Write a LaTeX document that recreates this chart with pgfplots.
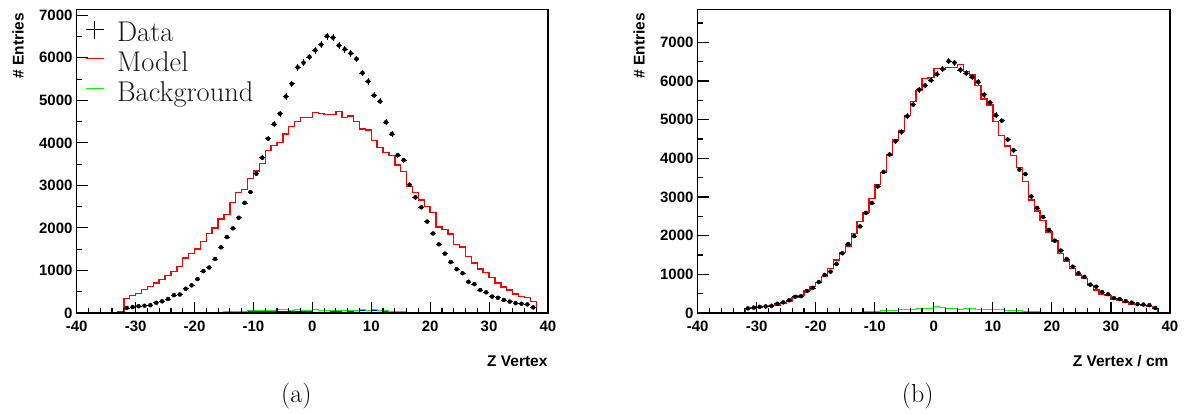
\documentclass[border=0pt]{standalone}
\usepackage{fontspec}
\usepackage{pgfplots}
\usepackage{pgfplotstable}
\pgfplotsset{compat=1.18}
\newfontfamily\rootfont{Liberation Sans}
\definecolor{rootgreen}{rgb}{0,1,0}
\definecolor{rootblue}{rgb}{0,0,1}
\definecolor{rootred}{rgb}{1,0,0}

\pgfplotstableread{
c d
-31.5 120
-30.5 140
-29.5 160
-28.5 170
-27.5 185
-26.5 240
-25.5 275
-24.5 330
-23.5 420
-22.5 435
-21.5 570
-20.5 650
-19.5 800
-18.5 985
-17.5 1070
-16.5 1270
-15.5 1545
-14.5 1785
-13.5 1990
-12.5 2240
-11.5 2590
-10.5 2845
-9.5 3275
-8.5 3650
-7.5 4100
-6.5 4440
-5.5 4685
-4.5 5090
-3.5 5390
-2.5 5775
-1.5 5885
-0.5 6020
0.5 6175
1.5 6310
2.5 6510
3.5 6475
4.5 6290
5.5 6200
6.5 6105
7.5 5975
8.5 5645
9.5 5445
10.5 5115
11.5 4975
12.5 4485
13.5 4210
14.5 3710
15.5 3595
16.5 3015
17.5 2720
18.5 2485
19.5 2150
20.5 1870
21.5 1615
22.5 1395
23.5 1198
24.5 1030
25.5 935
26.5 733
27.5 680
28.5 540
29.5 486
30.5 387
31.5 358
32.5 308
33.5 268
34.5 231
35.5 218
36.5 202
37.5 131
}\datatab

\pgfplotstableread{
e mL mR gL gR bL
-33 0 0 0 0 0
-33 40 0 3 3 2
-32 340 112 3 3 2
-31 410 125 3 3 2
-30 460 147 3 3 2
-29 550 165 3 3 2
-28 630 190 3 3 2
-27 701 207 3 4 2
-26 785 250 3 4 2
-25 880 310 3 4 2
-24 977 396 3 4 2
-23 1095 457 3 5 3
-22 1292 578 4 5 3
-21 1395 681 5 5 4
-20 1505 793 8 6 5
-19 1680 940 10 6 6
-18 1865 1155 14 7 8
-17 2000 1370 18 8 10
-16 2214 1560 22 9 12
-15 2317 1732 28 12 15
-14 2593 2060 35 15 18
-13 2829 2370 40 20 22
-12 2908 2603 45 28 25
-11 3160 2965 50 35 28
-10 3341 3318 55 45 30
-9 3515 3637 60 55 32
-8 3814 4086 62 65 34
-7 3940 4474 65 75 35
-6 4011 4706 75 85 38
-5 4208 5105 80 95 40
-4 4389 5465 70 100 38
-3 4508 5758 75 110 42
-2 4602 6060 70 105 44
-1 4602 6094 68 115 46
0 4720 6327 72 165 80
1 4689 6327 66 140 60
2 4673 6344 60 110 48
3 4673 6353 70 120 45
4 4744 6431 66 100 44
5 4594 6241 62 110 48
6 4634 6155 70 105 45
7 4500 5879 65 100 50
8 4326 5534 72 95 52
9 4303 5379 68 100 55
10 4050 4948 80 90 60
11 3885 4586 62 85 50
12 3775 4319 55 75 42
13 3696 4069 45 65 35
14 3483 3758 38 55 28
15 3325 3405 30 45 22
16 2971 2922 22 38 16
17 2829 2638 15 30 12
18 2656 2400 10 22 8
19 2498 2095 6 16 6
20 2356 1862 4 12 4
21 2025 1543 3 10 3
22 1962 1345 3 8 3
23 1860 1155 3 7 2
24 1608 983 3 6 2
25 1552 896 3 6 2
26 1332 707 3 5 2
27 1174 595 3 5 2
28 1032 483 3 4 2
29 954 448 3 4 2
30 835 362 3 4 2
31 701 319 3 3 2
32 607 276 3 3 2
33 544 233 3 3 2
34 449 215 3 3 2
35 386 190 3 3 2
36 362 164 3 3 2
37 268 112 3 3 2
38 0 0 0 0 0
}\histtab

\pgfplotsset{
  rootaxis/.style={
    scale only axis,
    height=303.7pt,
    xmin=-40, xmax=40, ymin=0,
    axis on top, clip mode=individual,
    tick align=inside, xtick pos=bottom, ytick pos=left,
    xtick={-40,-30,...,40}, minor x tick num=4,
    ytick distance=1000, minor y tick num=1,
    major tick length=11pt, minor tick length=5.5pt,
    axis line style={line width=1.3pt},
    every tick/.style={black, line width=1.1pt},
    tick label style={font=\rootfont\bfseries\fontsize{15}{18}\selectfont},
    /pgf/number format/assume math mode=true,
    /pgf/number format/1000 sep={},
    scaled y ticks=false,
    xticklabel style={inner sep=0pt, yshift=-8pt},
    yticklabel style={inner sep=0pt, xshift=-4pt},
  },
  datastyle/.style={only marks, mark=none,
    error bars/.cd, x dir=both, x fixed=0.5, y dir=both, y explicit,
    error mark=none, error bar style={black, line width=0.6pt}},
}

\begin{document}
\begin{tikzpicture}
\useasboundingbox (0,0) rectangle (1192pt,413pt);

% ---------- (a) ----------
\begin{axis}[rootaxis, at={(76.7pt,100pt)}, anchor=south west,
  width=471.3pt, ymax=7140,
  legend style={at={(axis description cs:0,1)}, anchor=north west,
    xshift=5pt, yshift=-9pt, draw=none, fill=none,
    font=\fontsize{28.5}{30}\selectfont, text=black!90,
    cells={anchor=west}, row sep=0pt,
    nodes={inner sep=0pt, text height=20pt, text depth=10pt},
    /tikz/every odd column/.append style={column sep=13pt}},
]
\addlegendimage{legend image code/.code={\draw[black,line width=0.8pt] (0pt,7pt)--(18pt,7pt); \draw[black,line width=0.8pt] (9pt,-2pt)--(9pt,16pt);}}
\addlegendentry{Data}
\addlegendimage{legend image code/.code={\draw[rootred,line width=1.2pt] (0pt,8pt)--(18pt,8pt);}}
\addlegendentry{Model}
\addlegendimage{legend image code/.code={\draw[rootgreen,line width=1.2pt] (0pt,8pt)--(18pt,8pt);}}
\addlegendentry{Background}

\addplot[const plot mark left, rootblue, line width=1pt, forget plot] table[x=e, y=bL] {\histtab};
\addplot[const plot mark left, rootgreen, line width=1pt, forget plot] table[x=e, y=gL] {\histtab};
\addplot[const plot mark left, rootred, line width=1.4pt, forget plot] table[x=e, y=mL] {\histtab};
\addplot[forget plot, datastyle] table[x=c, y=d, y error expr=sqrt(\thisrow{d})] {\datatab};

\node[font=\rootfont\bfseries\fontsize{15.5}{18}\selectfont, anchor=base east]
  at ([xshift=3pt,yshift=-53pt]axis description cs:1,0) {Z Vertex};
\node[font=\rootfont\bfseries\fontsize{15.5}{18}\selectfont, anchor=base east, rotate=90]
  at ([xshift=-53pt]axis description cs:0,1) {\# Entries};
\node[font=\fontsize{26}{30}\selectfont, anchor=base]
  at ([yshift=-89pt]axis description cs:0.466,0) {(a)};
\end{axis}

% ---------- (b) ----------
\begin{axis}[rootaxis, at={(697.7pt,100pt)}, anchor=south west,
  width=472.3pt, ymax=7855]
\addplot[const plot mark left, rootgreen, line width=1pt] table[x=e, y=gR] {\histtab};
\addplot[const plot mark left, rootred, line width=1.4pt] table[x=e, y=mR] {\histtab};
\addplot[datastyle] table[x=c, y=d, y error expr=sqrt(\thisrow{d})] {\datatab};

\node[font=\rootfont\bfseries\fontsize{15.5}{18}\selectfont, anchor=base east]
  at ([xshift=2pt,yshift=-53pt]axis description cs:1,0) {Z Vertex / cm};
\node[font=\rootfont\bfseries\fontsize{15.5}{18}\selectfont, anchor=base east, rotate=90]
  at ([xshift=-53pt]axis description cs:0,1) {\# Entries};
\node[font=\fontsize{26}{30}\selectfont, anchor=base]
  at ([yshift=-89pt]axis description cs:0.466,0) {(b)};
\end{axis}
\end{tikzpicture}
\end{document}
